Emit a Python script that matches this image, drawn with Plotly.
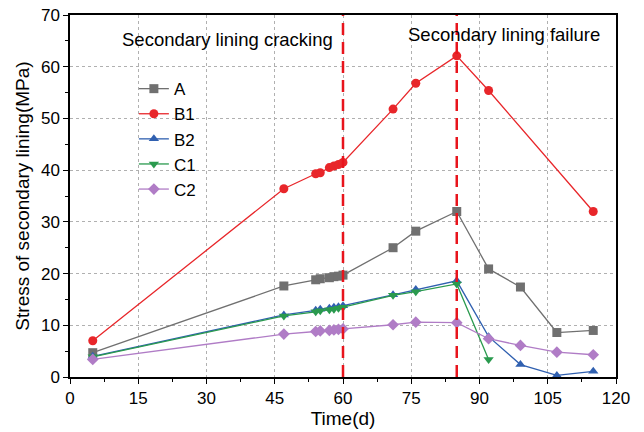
import plotly.graph_objects as go

time_A = [5, 47, 54, 55, 57, 58, 59, 60, 71, 76, 85, 92, 99, 107, 115]
stress_A = [4.7, 17.6, 18.8, 19.0, 19.2, 19.4, 19.5, 19.7, 25.0, 28.2, 32.0, 20.9, 17.4, 8.6, 9.0]

time_B1 = [5, 47, 54, 55, 57, 58, 59, 60, 71, 76, 85, 92, 115]
stress_B1 = [7.0, 36.4, 39.3, 39.5, 40.5, 40.8, 41.1, 41.5, 51.8, 56.8, 62.1, 55.4, 32.0]

time_B2 = [5, 47, 54, 55, 57, 58, 59, 60, 71, 76, 85, 92, 99, 107, 115]
stress_B2 = [4.0, 12.0, 12.9, 13.1, 13.3, 13.5, 13.6, 13.8, 15.9, 16.9, 18.6, 7.8, 2.4, 0.3, 1.1]

time_C1 = [5, 47, 54, 55, 57, 58, 59, 60, 71, 76, 85, 92]
stress_C1 = [3.9, 11.8, 12.6, 12.8, 13.0, 13.1, 13.3, 13.5, 15.8, 16.5, 18.0, 3.4]

time_C2 = [5, 47, 54, 55, 57, 58, 59, 60, 71, 76, 85, 92, 99, 107, 115]
stress_C2 = [3.4, 8.3, 8.8, 8.9, 9.0, 9.1, 9.2, 9.3, 10.1, 10.6, 10.5, 7.4, 6.1, 4.8, 4.3]

series = [
    ("A", time_A, stress_A, "#707070", "square"),
    ("B1", time_B1, stress_B1, "#e8262a", "circle"),
    ("B2", time_B2, stress_B2, "#3060b0", "triangle-up"),
    ("C1", time_C1, stress_C1, "#2a9a4e", "triangle-down"),
    ("C2", time_C2, stress_C2, "#b07cc6", "diamond"),
]

event_times = [60, 85]
event_labels = ["Secondary lining cracking", "Secondary lining failure"]

FONT = "Liberation Sans, Arial, sans-serif"

fig = go.Figure()
for name, x, y, color, sym in series:
    fig.add_trace(go.Scatter(
        x=x, y=y, name=name, mode="lines+markers",
        line=dict(color=color, width=1.3),
        marker=dict(symbol=sym, size=9, color=color),
    ))

for t in event_times:
    fig.add_shape(type="line", x0=t, x1=t, y0=0, y1=70, xref="x", yref="y",
                  line=dict(color="#e8141c", width=2.5, dash="12px,7px"))

fig.add_annotation(x=34.6, y=65.3, text=event_labels[0], showarrow=False,
                   font=dict(size=18.5, color="black", family=FONT), xref="x", yref="y")
fig.add_annotation(x=95.4, y=66.2, text=event_labels[1], showarrow=False,
                   font=dict(size=18.5, color="black", family=FONT), xref="x", yref="y")

axis_common = dict(
    showline=True, linecolor="black", linewidth=1.5, mirror=True,
    ticks="outside", ticklen=5, tickwidth=1.2, tickcolor="black",
    showgrid=True, gridcolor="#b0b0b0", griddash="dot", gridwidth=1,
    zeroline=False, tickfont=dict(size=17, color="black", family=FONT),
    automargin=False,
)

fig.update_xaxes(range=[0, 120], dtick=15,
                 title=dict(text="Time(d)", font=dict(size=19, color="black", family=FONT), standoff=0),
                 minor=dict(ticks="outside", ticklen=3, dtick=7.5, tickcolor="black"), **axis_common)
fig.update_yaxes(range=[0, 70], dtick=10,
                 title=dict(text="Stress of secondary lining(MPa)", font=dict(size=19, color="black", family=FONT), standoff=6),
                 minor=dict(ticks="outside", ticklen=3, dtick=5, tickcolor="black"), **axis_common)

fig.update_layout(
    width=644, height=432,
    margin=dict(l=70, r=28, t=15, b=55, autoexpand=False),
    plot_bgcolor="white", paper_bgcolor="white",
    font=dict(family=FONT, color="black"),
    legend=dict(x=0.117, y=0.845, xanchor="left", yanchor="top", bgcolor="rgba(0,0,0,0)",
                font=dict(size=17, family=FONT), tracegroupgap=0),
)

fig.write_html("out.html")
